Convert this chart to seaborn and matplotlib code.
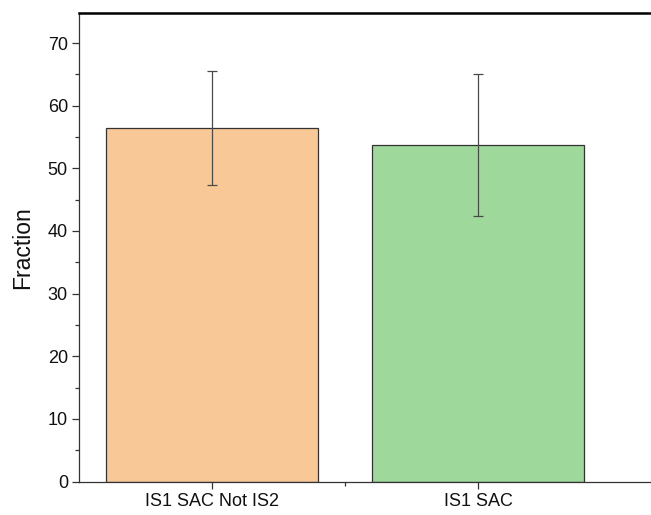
import matplotlib
matplotlib.use("Agg")
import matplotlib.pyplot as plt
from matplotlib.ticker import MultipleLocator, FixedLocator
import seaborn as sns
import pandas as pd

# Group means and their error magnitudes
categories = ["IS1 SAC Not IS2", "IS1 SAC"]
fractions = [56.5, 53.7]
errors = [9.1, 11.3]
bar_colors = ["#F9C897", "#9ED89B"]

sns.set_style("white")
plt.rcParams["font.family"] = ["Liberation Sans", "DejaVu Sans"]

W, H = 651, 515
fig = plt.figure(figsize=(W / 100, H / 100), dpi=100)

left_px, bottom_px, top_px = 79, 481.5, 13
ax_w_px = 720
ax = fig.add_axes([left_px / W, (H - bottom_px) / H, ax_w_px / W, (bottom_px - top_px) / H])

df = pd.DataFrame({"group": categories, "fraction": fractions})
sns.barplot(data=df, x="group", y="fraction", hue="group", palette=bar_colors,
            legend=False, width=0.8, saturation=1, edgecolor="#333333", linewidth=0.9,
            errorbar=None, ax=ax)

ax.errorbar(x=list(range(len(categories))), y=fractions, yerr=errors, fmt="none",
            ecolor="#4a4a4a", elinewidth=0.9, capsize=3.6, capthick=0.9, zorder=5)

px_per_cat = 266
ax.set_xlim(-0.5, -0.5 + ax_w_px / px_per_cat)
ax.set_ylim(0, 74.8)

ax.yaxis.set_major_locator(MultipleLocator(10))
ax.yaxis.set_minor_locator(MultipleLocator(5))
ax.xaxis.set_minor_locator(FixedLocator([0.5]))

ax.tick_params(axis="both", which="major", direction="out", length=5, width=0.9,
               color="#333333", labelsize=13, labelcolor="#111111", pad=3)
ax.tick_params(axis="both", which="minor", direction="out", length=3, width=0.9,
               color="#333333")
ax.tick_params(axis="x", which="both", bottom=True)
ax.tick_params(axis="y", which="both", left=True)

ax.set_xlabel("")
ax.set_ylabel("Fraction", fontsize=16.5, color="#111111", labelpad=10)

for side in ["left", "bottom"]:
    ax.spines[side].set_color("#333333")
    ax.spines[side].set_linewidth(0.9)
ax.spines["top"].set_color("black")
ax.spines["top"].set_linewidth(1.8)
ax.spines["right"].set_color("black")
ax.spines["right"].set_linewidth(1.8)

fig.savefig("out.png", dpi=100)
